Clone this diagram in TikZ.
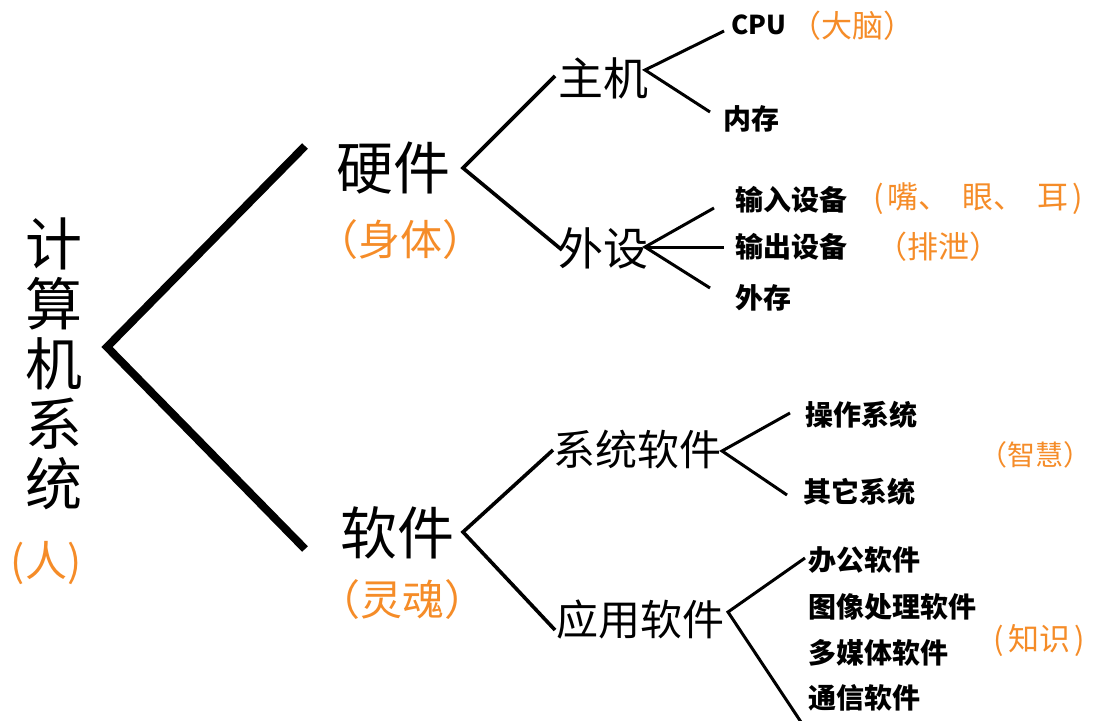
\documentclass[tikz,border=0pt]{standalone}
\usepackage{fontspec}
\setmainfont{Noto Sans CJK SC}
\newfontfamily\cjk{Noto Sans CJK SC}
\definecolor{accent}{RGB}{245,140,40}
\tikzset{
  lbl/.style={inner sep=0pt, font=\cjk},
  big/.style={lbl, font=\cjk\fontsize{57}{60}\selectfont},
  mid/.style={lbl, font=\cjk\fontsize{45}{50}\selectfont},
  small/.style={lbl, font=\cjk\bfseries\fontsize{28}{32}\selectfont},
  note/.style={lbl, text=accent, font=\cjk\fontsize{31}{34}\selectfont},
  bignote/.style={lbl, text=accent, font=\cjk\fontsize{42}{46}\selectfont},
  trunk/.style={line width=8pt},
  branch/.style={line width=3.6pt},
  twig/.style={line width=3pt},
}
\begin{document}
\begin{tikzpicture}[x=1pt,y=-1pt]
\useasboundingbox (0,0) rectangle (1094,720);
% root
\node[big, align=center] (root) at (54,364) {计\\算\\机\\系\\统};
\node[bignote] (ren) at (46,563) {(人)};
% level 1
\node[big] (hw) at (393,168) {硬件};
\node[bignote] (hwn) at (400,240) {（身体）};
\node[big] (sw) at (397,533) {软件};
\node[bignote] (swn) at (402,600) {（灵魂）};
% level 2
\node[mid] (zj) at (603,78) {主机};
\node[mid] (ws) at (603,248) {外设};
\node[font=\cjk\fontsize{42}{46}\selectfont, inner sep=0pt] (xt) at (637,449) {系统软件};
\node[font=\cjk\fontsize{42}{46}\selectfont, inner sep=0pt] (yy) at (640,620) {应用软件};
% level 3
\node[small, anchor=west, font=\cjk\bfseries\fontsize{26}{30}\selectfont] (cpu) at (731,25) {CPU};
\node[note] (cpun) at (852,26) {（大脑）};
\node[small, anchor=west] (nc) at (723,119) {内存};
\node[small, anchor=west] (sr) at (735,200) {输入设备};
\node[note] (srn) at (978,199) {(\hspace{4pt}嘴、\hspace{13pt}眼、\hspace{13pt}耳\hspace{4pt})};
\node[small, anchor=west] (sc) at (735,247) {输出设备};
\node[note] (scn) at (938,247) {（排泄）};
\node[small, anchor=west] (wc) at (735,298) {外存};
\node[small, anchor=west] (cz) at (805,415) {操作系统};
\node[small, anchor=west] (qt) at (803,492) {其它系统};
\node[note, font=\cjk\fontsize{28}{30}\selectfont] (zh) at (1035,455) {（智慧）};
\node[small, anchor=west] (bg) at (808,560) {办公软件};
\node[small, anchor=west] (tx) at (808,607) {图像处理软件};
\node[small, anchor=west] (dm) at (808,653) {多媒体软件};
\node[small, anchor=west] (tn) at (808,698) {通信软件};
\node[note] (zs) at (1039,640) {(\hspace{4pt}知识\hspace{4pt})};
% connector points
\coordinate (v0) at (107,347);
\coordinate (t1) at (305,146);
\coordinate (t2) at (305,549);
\coordinate (vh) at (463,168);
\coordinate (h1) at (555,76);
\coordinate (h2) at (562,250);
\coordinate (vs) at (463,532);
\coordinate (s1) at (553,450);
\coordinate (s2) at (555,630);
\coordinate (vz) at (645,70);
\coordinate (z1) at (724,31);
\coordinate (z2) at (710,112);
\coordinate (vw) at (645,247);
\coordinate (w1) at (714,208);
\coordinate (w2) at (724,247);
\coordinate (w3) at (710,288);
\coordinate (vx) at (722,451);
\coordinate (x1) at (790,413);
\coordinate (x2) at (787,495);
\coordinate (vy) at (728,612);
\coordinate (y1) at (805,558);
\coordinate (y2) at (803,725);
% connectors
\draw[trunk] (t1) -- (v0) -- (t2);
\draw[branch] (h1) -- (vh) -- (h2);
\draw[branch] (s1) -- (vs) -- (s2);
\draw[twig] (z1) -- (vz) -- (z2);
\draw[twig] (w1) -- (vw) -- (w3);
\draw[twig] (vw) -- (w2);
\draw[twig] (x1) -- (vx) -- (x2);
\draw[twig] (y1) -- (vy) -- (y2);
\end{tikzpicture}
\end{document}
